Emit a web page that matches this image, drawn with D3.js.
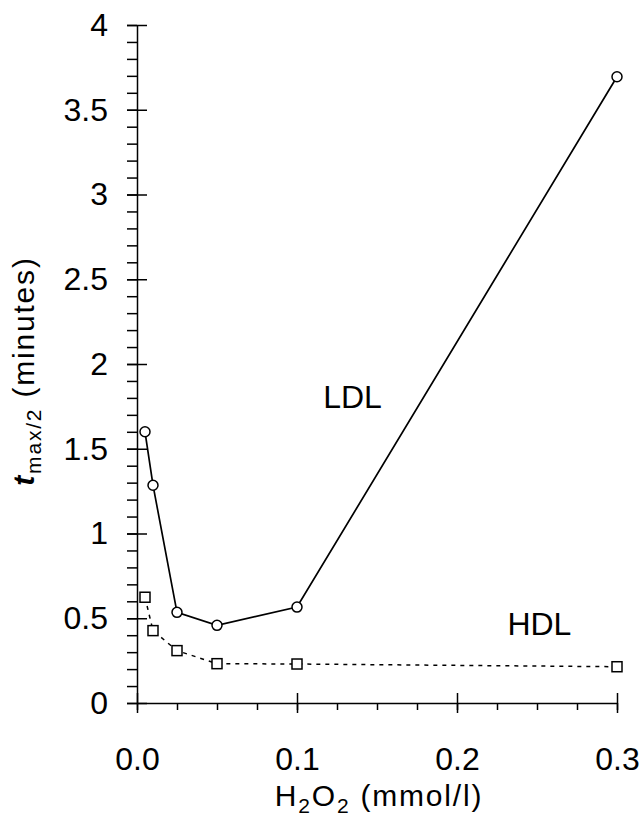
<!DOCTYPE html>
<html>
<head>
<meta charset="utf-8">
<script src="https://cdn.jsdelivr.net/npm/d3@7"></script>
<style>
	body { margin: 0; background: #fff; }
	svg text { font-family: "Liberation Sans", Arial, sans-serif; fill: #000; }
</style>
</head>
<body>
<svg id="chart" width="642" height="816"></svg>
<script>
// H2O2 concentrations (mmol/l)
var h2o2 = [0.005, 0.01, 0.025, 0.05, 0.1, 0.3];
// t max/2 (minutes)
var ldl = [1.60, 1.285, 0.535, 0.458, 0.566, 3.695];
var hdl = [0.624, 0.427, 0.309, 0.232, 0.230, 0.214];

var xMajor = [0, 0.1, 0.2, 0.3];
var xMinor = d3.range(0, 0.3001, 0.025);
var yMajor = [0, 0.5, 1, 1.5, 2, 2.5, 3, 3.5, 4];
var yMinor = d3.range(0, 4.001, 0.1);

var svg = d3.select("#chart");
var margin = {top: 25, left: 137, right: 25, bottom: 113};
var width = 642 - margin.left - margin.right,
	height = 816 - margin.top - margin.bottom;

var g = svg.append("g").attr("transform", "translate(" + margin.left + "," + margin.top + ")");

var x = d3.scaleLinear().domain([0, 0.3]).range([0, width]);
var y = d3.scaleLinear().domain([0, 4]).range([height, 0]);

// minor ticks first
g.append("g")
	.attr("transform", "translate(0," + height + ")")
	.call(d3.axisBottom(x).tickValues(xMinor).tickSize(7).tickFormat(""))
	.call(a => a.select(".domain").remove());

g.append("g")
	.call(d3.axisLeft(y).tickValues(yMinor).tickSize(10).tickFormat(""))
	.call(a => a.select(".domain").remove());

// major axes
var xAxis = g.append("g")
	.attr("transform", "translate(0," + height + ")")
	.call(d3.axisBottom(x).tickValues(xMajor).tickSizeInner(10).tickSizeOuter(0).tickPadding(34).tickFormat(d3.format(".1f")));
xAxis.selectAll(".tick line").attr("y1", -10);

var yAxis = g.append("g")
	.call(d3.axisLeft(y).tickValues(yMajor).tickSizeInner(10).tickSizeOuter(0).tickPadding(19).tickFormat(d => d));
yAxis.selectAll(".tick line").attr("x1", 10);

g.selectAll(".domain, .tick line").attr("stroke", "#000").attr("stroke-width", 1.5);
g.selectAll(".tick text").style("font-size", "32px");

// lines
var line = d3.line().x(d => x(d[0])).y(d => y(d[1]));
var ldlPts = h2o2.map((v, i) => [v, ldl[i]]);
var hdlPts = h2o2.map((v, i) => [v, hdl[i]]);

g.append("path")
	.datum(hdlPts)
	.attr("fill", "none")
	.attr("stroke", "#000")
	.attr("stroke-width", 1.5)
	.attr("stroke-dasharray", "4,5")
	.attr("d", line);

g.append("path")
	.datum(ldlPts)
	.attr("fill", "none")
	.attr("stroke", "#000")
	.attr("stroke-width", 1.7)
	.attr("d", line);

g.selectAll("circle.ldl")
	.data(ldlPts)
	.enter().append("circle")
	.attr("class", "ldl")
	.attr("cx", d => x(d[0]))
	.attr("cy", d => y(d[1]))
	.attr("r", 5)
	.attr("fill", "#fff")
	.attr("stroke", "#000")
	.attr("stroke-width", 1.5);

g.selectAll("rect.hdl")
	.data(hdlPts)
	.enter().append("rect")
	.attr("class", "hdl")
	.attr("x", d => x(d[0]) - 5)
	.attr("y", d => y(d[1]) - 5)
	.attr("width", 10)
	.attr("height", 10)
	.attr("fill", "#fff")
	.attr("stroke", "#000")
	.attr("stroke-width", 1.5);

// series labels
g.append("text")
	.attr("x", x(0.1347))
	.attr("y", y(1.74))
	.attr("text-anchor", "middle")
	.style("font-size", "32px")
	.text("LDL");

g.append("text")
	.attr("x", x(0.2515))
	.attr("y", y(0.40))
	.attr("text-anchor", "middle")
	.style("font-size", "32px")
	.text("HDL");

// axis titles
var xt = svg.append("text")
	.attr("x", 379)
	.attr("y", 806)
	.attr("text-anchor", "middle")
	.style("font-size", "30px")
	.style("letter-spacing", "1.8px");
xt.append("tspan").text("H");
xt.append("tspan").attr("dy", 7).style("font-size", "21px").text("2");
xt.append("tspan").attr("dy", -7).text("O");
xt.append("tspan").attr("dy", 7).style("font-size", "21px").text("2");
xt.append("tspan").attr("dy", -7).text(" (mmol/l)");

var yt = svg.append("text")
	.attr("transform", "translate(34,371) rotate(-90)")
	.attr("text-anchor", "middle")
	.style("font-size", "30px")
	.style("letter-spacing", "1.8px");
yt.append("tspan").style("font-style", "italic").style("font-weight", "bold").text("t");
yt.append("tspan").attr("dy", 7).style("font-size", "21px").text("max/2");
yt.append("tspan").attr("dy", -7).text(" (minutes)");
</script>
</body>
</html>
